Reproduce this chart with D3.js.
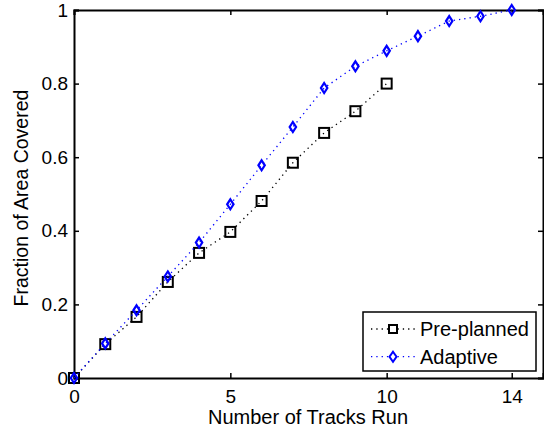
<!DOCTYPE html>
<meta charset="utf-8">
<style>
  body { margin: 0; background: #fff; }
  text { font-family: "Liberation Sans", Arial, sans-serif; }
</style>
<script src="https://d3js.org/d3.v7.min.js"></script>
<div id="chart"></div>
<script>
// data
var tracks = [0, 1, 2, 3, 4, 5, 6, 7, 8, 9, 10, 11, 12, 13, 14];
var preplanned = [0, 0.092, 0.166, 0.261, 0.34, 0.397, 0.481, 0.585, 0.666, 0.725, 0.80];
var adaptive = [0, 0.094, 0.184, 0.276, 0.368, 0.472, 0.578, 0.682, 0.788, 0.847, 0.889, 0.929, 0.97, 0.983, 1.0];
var xTicks = [0, 5, 10, 14];
var yTicks = [0, 0.2, 0.4, 0.6, 0.8, 1];
var seriesNames = ["Pre-planned", "Adaptive"];

var W = 544, H = 430;
var margin = {top: 10, right: 1, bottom: 52, left: 74};
var width = W - margin.left - margin.right,
    height = H - margin.top - margin.bottom;

var svg = d3.select("#chart").append("svg")
  .attr("width", W).attr("height", H);

var g = svg.append("g")
  .attr("transform", "translate(" + margin.left + "," + margin.top + ")");

var x = d3.scaleLinear().domain([0, 15]).range([0, width]);
var y = d3.scaleLinear().domain([0, 1]).range([height, 0]);

// axes, matlab style: ticks inside, on all four sides
var fmt = function(d) { return String(d); };

var xAxis = g.append("g").attr("transform", "translate(0," + height + ")")
  .call(d3.axisBottom(x).tickValues(xTicks).tickSize(-5).tickPadding(12).tickFormat(fmt));
var xTop = g.append("g")
  .call(d3.axisTop(x).tickValues(xTicks).tickSize(-5).tickFormat(""));
var yAxis = g.append("g")
  .call(d3.axisLeft(y).tickValues(yTicks).tickSize(-5).tickPadding(6).tickFormat(fmt));
var yRight = g.append("g").attr("transform", "translate(" + width + ",0)")
  .call(d3.axisRight(y).tickValues(yTicks).tickSize(-5).tickFormat(""));

[xAxis, xTop, yAxis, yRight].forEach(function(a) {
  a.select(".domain").attr("stroke", "#000").attr("stroke-width", 2);
  a.selectAll(".tick line").attr("stroke", "#000").attr("stroke-width", 1.5);
  a.selectAll(".tick text").attr("fill", "#000").style("font-size", "19px")
    .style("font-family", '"Liberation Sans", Arial, sans-serif');
});

// axis labels
g.append("text")
  .attr("x", 308 - margin.left).attr("y", height + 46)
  .attr("text-anchor", "middle").style("font-size", "20px")
  .text("Number of Tracks Run");

g.append("text")
  .attr("transform", "translate(" + (28 - margin.left) + "," + (198 - margin.top) + ")rotate(-90)")
  .attr("text-anchor", "middle").style("font-size", "19.5px")
  .text("Fraction of Area Covered");

var line = d3.line()
  .x(function(d, i) { return x(tracks[i]); })
  .y(function(d) { return y(d); });

// pre-planned
g.append("path").datum(preplanned)
  .attr("d", line).attr("fill", "none")
  .attr("stroke", "#000").attr("stroke-width", 1.3)
  .attr("stroke-dasharray", "1.3,4");

g.selectAll(".sq").data(preplanned).enter().append("rect")
  .attr("class", "sq")
  .attr("x", function(d, i) { return x(tracks[i]) - 5; })
  .attr("y", function(d) { return y(d) - 5; })
  .attr("width", 10).attr("height", 10)
  .attr("fill", "none").attr("stroke", "#000").attr("stroke-width", 2);

// adaptive
g.append("path").datum(adaptive)
  .attr("d", line).attr("fill", "none")
  .attr("stroke", "#0000ff").attr("stroke-width", 1.3)
  .attr("stroke-dasharray", "1.3,4");

g.selectAll(".dm").data(adaptive).enter().append("path")
  .attr("class", "dm")
  .attr("transform", function(d, i) { return "translate(" + x(tracks[i]) + "," + y(d) + ")"; })
  .attr("d", "M0,-5L3.2,0L0,5L-3.2,0Z")
  .attr("fill", "none").attr("stroke", "#0000ff").attr("stroke-width", 2.2);

// legend
var lg = svg.append("g").attr("transform", "translate(363,312)");
lg.append("rect").attr("width", 173).attr("height", 59)
  .attr("fill", "#fff").attr("stroke", "#000").attr("stroke-width", 1.5);

var colors = ["#000", "#0000ff"];
seriesNames.forEach(function(name, i) {
  var cy = 17 + i * 27.7;
  lg.append("line").attr("x1", 8).attr("x2", 54).attr("y1", cy).attr("y2", cy)
    .attr("stroke", colors[i]).attr("stroke-width", 1.3).attr("stroke-dasharray", "1.3,4");
  if (i === 0) {
    lg.append("rect").attr("x", 26).attr("y", cy - 4).attr("width", 8).attr("height", 8)
      .attr("fill", "#fff").attr("stroke", "#000").attr("stroke-width", 2);
  } else {
    lg.append("path").attr("transform", "translate(30," + cy + ")")
      .attr("d", "M0,-5L3.5,0L0,5L-3.5,0Z")
      .attr("fill", "#fff").attr("stroke", "#0000ff").attr("stroke-width", 2);
  }
  lg.append("text").attr("x", 57).attr("y", cy + 7)
    .style("font-size", "20px").text(name);
});
</script>
